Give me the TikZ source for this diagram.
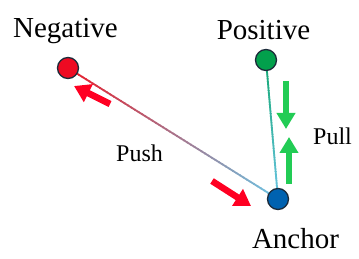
\documentclass[tikz,border=0pt]{standalone}
\usepackage{fontspec}
\setmainfont{Liberation Serif}
\usetikzlibrary{arrows.meta,calc}
\definecolor{negfill}{HTML}{EE0A22}
\definecolor{posfill}{HTML}{02A04C}
\definecolor{ancfill}{HTML}{0062B0}
\definecolor{rimcol}{HTML}{1C2B3A}
\definecolor{lineRed}{HTML}{E81E2C}
\definecolor{lineBlue}{HTML}{6CC4E4}
\definecolor{lineTeal}{HTML}{12A872}
\definecolor{pushRed}{HTML}{FF0022}
\definecolor{pullGreen}{HTML}{22CC55}
\tikzset{
  dot/.style={circle,draw=rimcol,line width=1.3pt,minimum size=21pt,inner sep=0pt},
  bigtext/.style={anchor=base,inner sep=0pt,font=\fontsize{29}{32}\selectfont},
  smalltext/.style={anchor=base,inner sep=0pt,font=\fontsize{24}{27}\selectfont},
  pusharrow/.style={draw=pushRed,line width=6.5pt,-{Triangle[length=16pt,width=19pt]}},
  pullarrow/.style={draw=pullGreen,line width=6pt,-{Triangle[length=16pt,width=18pt]}},
}
\begin{document}
\begin{tikzpicture}[x=1pt,y=-1pt]
\useasboundingbox (0,0) rectangle (359,259);
% points
\coordinate (negc) at (68,68);
\coordinate (posc) at (266,60);
\coordinate (ancc) at (278,199);
% gradient connectors
\foreach \i in {0,...,59}{
  \pgfmathsetmacro{\ta}{\i/60}
  \pgfmathsetmacro{\tb}{(\i+1.3)/60}
  \pgfmathsetmacro{\p}{100-100*\i/59}
  \draw[line width=1.8pt,color=lineRed!\p!lineBlue] ($(negc)!\ta!(ancc)$) -- ($(negc)!{min(\tb,1)}!(ancc)$);
  \draw[line width=1.8pt,color=lineTeal!\p!lineBlue] ($(posc)!\ta!(ancc)$) -- ($(posc)!{min(\tb,1)}!(ancc)$);
}
% nodes
\node[dot,fill=negfill] (neg) at (negc) {};
\node[dot,fill=posfill] (pos) at (posc) {};
\node[dot,fill=ancfill] (anc) at (ancc) {};
% labels
\node[bigtext] (negl) at (65.5,38) {Negative};
\node[bigtext] (posl) at (263.5,40) {Positive};
\node[bigtext] (ancl) at (295.5,248) {Anchor};
\node[smalltext] (pushl) at (139.5,162) {Push};
\node[smalltext] (pulll) at (332.5,145) {Pull};
% force arrows
\coordinate (pa1) at (110,104);
\coordinate (pa2) at (74,86);
\coordinate (pb1) at (212,181);
\coordinate (pb2) at (251,206);
\coordinate (ga1) at (286,81);
\coordinate (ga2) at (286,129);
\coordinate (gb1) at (289,184);
\coordinate (gb2) at (289,137);
\draw[pusharrow] (pa1) -- (pa2);
\draw[pusharrow] (pb1) -- (pb2);
\draw[pullarrow] (ga1) -- (ga2);
\draw[pullarrow] (gb1) -- (gb2);
\end{tikzpicture}
\end{document}
